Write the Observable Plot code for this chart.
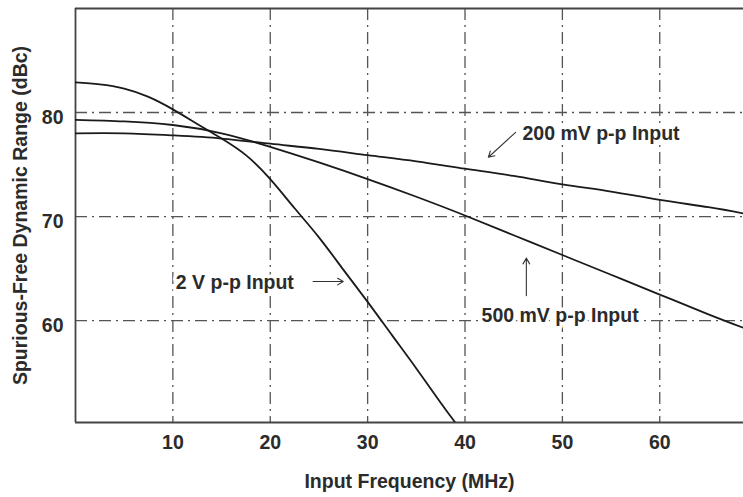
<!DOCTYPE html>
<html><head><meta charset="utf-8">
<script src="https://cdn.jsdelivr.net/npm/d3@7"></script>
<script src="https://cdn.jsdelivr.net/npm/@observablehq/plot@0.6"></script>
<style>body{margin:0;background:#fff}</style>
</head><body><div id="chart"></div>
<script>
// --- data ---
const xTicks = [10, 20, 30, 40, 50, 60];
const yTicks = [60, 70, 80];
const xDomain = [0, 68.6];
const yDomain = [50.2, 90];
const xTitle = "Input Frequency (MHz)";
const yTitle = "Spurious-Free Dynamic Range (dBc)";

const freq2V = [0, 2.5, 5, 7.5, 10, 12.5, 15, 17.5, 20, 22.5, 25, 27.5, 30, 32.5, 35, 37.5, 39];
const sfdr2V = [82.9, 82.7, 82.3, 81.5, 80.3, 78.9, 77.5, 75.9, 73.6, 70.8, 68.0, 64.9, 61.8, 58.6, 55.4, 52.1, 50.2];

const freq500 = [0, 5, 10, 15, 20, 25, 30, 35, 40, 45, 50, 55, 60, 65, 68.6];
const sfdr500 = [79.3, 79.15, 78.8, 78.0, 76.7, 75.2, 73.6, 71.9, 70.1, 68.2, 66.3, 64.4, 62.5, 60.6, 59.3];

const freq200 = [0, 5, 10, 15, 20, 25, 30, 35, 40, 45, 50, 55, 60, 65, 68.6];
const sfdr200 = [78.0, 78.0, 77.8, 77.5, 77.0, 76.5, 75.9, 75.3, 74.6, 73.9, 73.1, 72.4, 71.6, 70.9, 70.3];

const labelText = ["200 mV p-p Input", "500 mV p-p Input", "2 V p-p Input"];
const labelX = [45.9, 41.7, 10.3];
const labelY = [78.0, 60.5, 63.6];

const arrowX1 = [45.2, 46.3, 24.4];
const arrowY1 = [78.1, 62.4, 63.75];
const arrowX2 = [42.4, 46.3, 27.5];
const arrowY2 = [75.7, 66.0, 63.75];

// --- tables built from the arrays ---
const rows = [
  ...freq2V.map((f, i) => ({series: "2 V", f, v: sfdr2V[i]})),
  ...freq500.map((f, i) => ({series: "500 mV", f, v: sfdr500[i]})),
  ...freq200.map((f, i) => ({series: "200 mV", f, v: sfdr200[i]}))
];
const labels = labelText.map((t, i) => ({t, x: labelX[i], y: labelY[i]}));
const arrows = arrowX1.map((x1, i) => ({x1, y1: arrowY1[i], x2: arrowX2[i], y2: arrowY2[i]}));

const gridStyle = {stroke: "#555", strokeOpacity: 1, strokeWidth: 1.3, strokeDasharray: "12,5,2,5"};
const ink = "#2b2b2b";

const chart = Plot.plot({
  width: 743, height: 497,
  marginLeft: 75, marginRight: 0, marginTop: 8, marginBottom: 75,
  x: {domain: xDomain},
  y: {domain: yDomain},
  style: {fontFamily: "'Liberation Sans', Arial, sans-serif", fontSize: "19.5px", fontWeight: "bold", color: ink, background: "#fff"},
  marks: [
    Plot.gridX(xTicks, gridStyle),
    Plot.gridY(yTicks, gridStyle),
    Plot.ruleX([xDomain[0]], {stroke: "#444", strokeWidth: 1.8}),
    Plot.ruleY(yDomain, {stroke: "#444", strokeWidth: 1.8}),
    Plot.axisX(xTicks, {tickSize: 0, tickPadding: 13, label: null, fill: ink}),
    Plot.axisY(yTicks, {tickSize: 0, tickPadding: 12, dy: 5, label: null, fill: ink}),
    Plot.text([xTitle], {frameAnchor: "bottom", textAnchor: "middle", dy: 65, fill: ink}),
    Plot.text([yTitle], {frameAnchor: "left", textAnchor: "middle", rotate: -90, dx: -55, fill: ink}),
    Plot.line(rows, {x: "f", y: "v", z: "series", curve: "natural", stroke: "#1a1a1a", strokeWidth: 1.8, clip: true}),
    Plot.text(labels, {x: "x", y: "y", text: "t", textAnchor: "start", fill: ink, stroke: "white", strokeWidth: 7, paintOrder: "stroke"}),
    Plot.arrow(arrows, {x1: "x1", y1: "y1", x2: "x2", y2: "y2", stroke: "#333", strokeWidth: 1.1, headLength: 9})
  ]
});
document.getElementById("chart").append(chart);
</script></body></html>
